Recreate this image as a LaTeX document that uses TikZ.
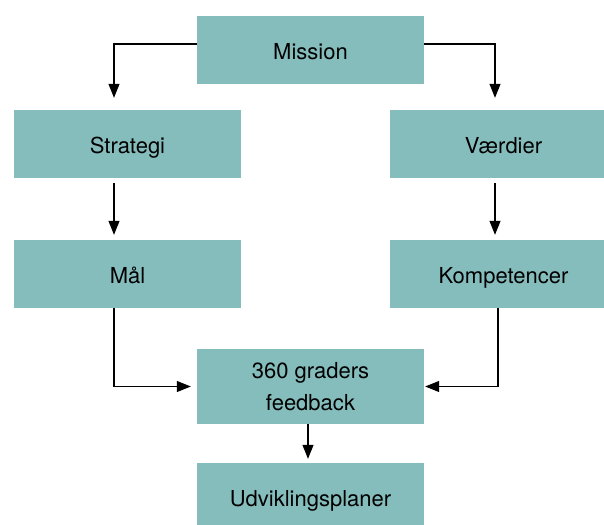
\documentclass[tikz,border=0pt]{standalone}
\usepackage{fontspec}
\setmainfont{TeX Gyre Heros}
\usetikzlibrary{arrows.meta}
\definecolor{boxteal}{RGB}{133,189,189}

\begin{document}
\begin{tikzpicture}[x=1pt, y=-1pt,
boxbase/.style={fill=boxteal, minimum width=227pt, minimum height=68pt, inner sep=0pt,
  font=\fontsize{22}{32}\selectfont, align=center},
box/.style={boxbase, text height=19pt, text depth=0pt},
flow/.style={line width=1.1pt, -{Triangle[length=14pt, width=11pt]}}]
\clip (0,0) rectangle (604,524);
% boxes
\node[box] (mission) at (310.5,50) {Mission};
\node[box] (strategi) at (127.5,144) {Strategi};
\node[box] (vaerdier) at (503.5,144) {Værdier};
\node[box] (maal) at (127.5,274) {Mål};
\node[box] (komp) at (503.5,274) {Kompetencer};
\node[boxbase, minimum height=75pt] (feedback) at (310.5,386.5) {360 graders\\feedback};
\node[box] (udvikl) at (310.5,497) {Udviklingsplaner};
% arrows
\draw[flow] ([yshift=6pt]mission.west) -| ([xshift=-13.5pt, yshift=12pt]strategi.north);
\draw[flow] ([yshift=6pt]mission.east) -| ([xshift=-8.5pt, yshift=12pt]vaerdier.north);
\draw[flow] ([xshift=-13.5pt, yshift=-5pt]strategi.south) -- ([xshift=-13.5pt, yshift=5pt]maal.north);
\draw[flow] ([xshift=-8.5pt, yshift=-5pt]vaerdier.south) -- ([xshift=-8.5pt, yshift=5pt]komp.north);
\draw[flow] ([xshift=-13.5pt]maal.south) |- ([xshift=-6pt]feedback.west);
\draw[flow] ([xshift=-5.5pt]komp.south) |- ([xshift=1pt]feedback.east);
\draw[flow] ([xshift=-2.5pt]feedback.south) -- ([xshift=-2.5pt, yshift=4pt]udvikl.north);
\end{tikzpicture}
\end{document}
